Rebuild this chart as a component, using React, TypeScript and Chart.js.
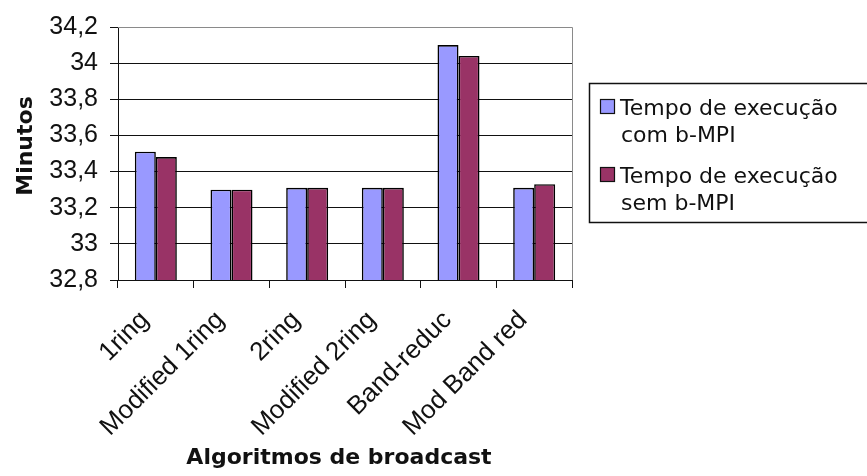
import React, { useEffect, useRef } from "react";
import { Chart, registerables } from "chart.js";

Chart.register(...registerables);

const categories = [
  "1ring",
  "Modified 1ring",
  "2ring",
  "Modified 2ring",
  "Band-reduc",
  "Mod Band red",
];
const comBMPI = [33.51, 33.3, 33.31, 33.31, 34.1, 33.31];
const semBMPI = [33.48, 33.3, 33.31, 33.31, 34.04, 33.33];
const seriesNames = [
  ["Tempo de execução", "com b-MPI"],
  ["Tempo de execução", "sem b-MPI"],
];
const yMin = 32.8;
const yMax = 34.2;
const yStep = 0.2;
const yTitle = "Minutos";
const xTitle = "Algoritmos de broadcast";

const BLUE = "#9999FF";
const WINE = "#993366";
const TICK_FONT = "'Liberation Sans', Arial, sans-serif";
const TEXT_FONT = "'DejaVu Sans', Verdana, sans-serif";

const decorations = {
  id: "decorations",
  afterDraw(chart: any) {
    const { ctx, chartArea } = chart;
    const { left, right, top, bottom } = chartArea;
    ctx.save();

    // plot-area frame (top and right edges)
    ctx.strokeStyle = "#8a8a8a";
    ctx.lineWidth = 1;
    ctx.beginPath();
    ctx.moveTo(left, Math.round(top) + 0.5);
    ctx.lineTo(Math.round(right) + 0.5, Math.round(top) + 0.5);
    ctx.lineTo(Math.round(right) + 0.5, bottom);
    ctx.stroke();

    // axis titles
    ctx.fillStyle = "#111";
    ctx.font = `bold 22px ${TEXT_FONT}`;
    ctx.textAlign = "center";
    ctx.textBaseline = "alphabetic";
    ctx.fillText(xTitle, 339, 464);

    ctx.save();
    ctx.translate(32, 146);
    ctx.rotate(-Math.PI / 2);
    ctx.fillText(yTitle, 0, 0);
    ctx.restore();

    // legend
    const boxL = 589.5;
    const boxT = 83.5;
    ctx.strokeStyle = "#111";
    ctx.lineWidth = 1.5;
    ctx.fillStyle = "#fff";
    ctx.fillRect(boxL, boxT, 300, 139);
    ctx.strokeRect(boxL, boxT, 300, 139);

    const colors = [BLUE, WINE];
    const baselines = [115, 183];
    ctx.font = `22px ${TEXT_FONT}`;
    ctx.textAlign = "left";
    seriesNames.forEach((lines, i) => {
      const base = baselines[i];
      ctx.fillStyle = colors[i];
      ctx.fillRect(600.5, base - 15.5, 14, 14);
      ctx.strokeStyle = "#111";
      ctx.lineWidth = 1.2;
      ctx.strokeRect(600.5, base - 15.5, 14, 14);
      ctx.fillStyle = "#111";
      lines.forEach((t, j) => {
        ctx.fillText(t, j === 0 ? 620 : 621, base + j * 27);
      });
    });

    ctx.restore();
  },
};

export default function App() {
  const canvasRef = useRef<HTMLCanvasElement | null>(null);

  useEffect(() => {
    const canvas = canvasRef.current;
    if (!canvas) return;
    const chart = new Chart(canvas, {
      type: "bar",
      data: {
        labels: categories,
        datasets: [
          {
            label: seriesNames[0].join(" "),
            data: comBMPI,
            backgroundColor: BLUE,
            borderColor: "#000",
            borderWidth: 1.6,
            borderSkipped: false,
          },
          {
            label: seriesNames[1].join(" "),
            data: semBMPI,
            backgroundColor: WINE,
            borderColor: "#000",
            borderWidth: 1.6,
            borderSkipped: false,
          },
        ],
      },
      options: {
        responsive: false,
        animation: false,
        layout: { padding: { top: 23, right: 295, left: 0, bottom: 0 } },
        datasets: {
          bar: { categoryPercentage: 0.555, barPercentage: 1 },
        },
        plugins: {
          legend: { display: false },
          tooltip: { enabled: false },
          title: { display: false },
        },
        scales: {
          x: {
            grid: {
              offset: true,
              drawOnChartArea: false,
              drawTicks: true,
              tickLength: 8,
              tickColor: "#111",
            },
            border: { color: "#111", width: 1 },
            ticks: {
              font: { family: TICK_FONT, size: 26 },
              color: "#111",
              minRotation: 45,
              maxRotation: 45,
              autoSkip: false,
              padding: 17,
              labelOffset: -11,
            },
            afterFit: (scale: any) => {
              scale.height = 196;
            },
          },
          y: {
            min: yMin,
            max: yMax,
            grid: {
              color: (c: any) =>
                Math.abs(c.tick.value - yMax) < 1e-6 ? "#8a8a8a" : "#111",
              tickColor: "#111",
              tickLength: 8,
              lineWidth: 1,
            },
            border: { color: "#111", width: 1 },
            ticks: {
              stepSize: yStep,
              font: { family: TICK_FONT, size: 25 },
              color: "#111",
              padding: 12,
              callback: (v: any) =>
                String(Math.round(Number(v) * 10) / 10).replace(".", ","),
            },
            afterFit: (scale: any) => {
              scale.width = 118;
            },
          },
        },
      },
      plugins: [decorations],
    });
    return () => chart.destroy();
  }, []);

  return (
    <div
      style={{
        position: "fixed",
        left: 0,
        top: 0,
        width: 867,
        height: 476,
        background: "#fff",
        overflow: "hidden",
      }}
    >
      <canvas ref={canvasRef} width={867} height={476} />
    </div>
  );
}
